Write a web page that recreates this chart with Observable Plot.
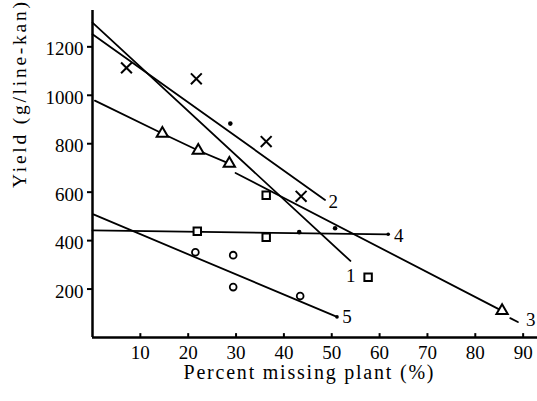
<!DOCTYPE html>
<html>
<head>
<meta charset="utf-8">
<script src="https://cdn.jsdelivr.net/npm/d3@7"></script>
<script src="https://cdn.jsdelivr.net/npm/@observablehq/plot@0.6"></script>
<style>
  html, body { margin: 0; padding: 0; background: white; }
  #chart { width: 537px; height: 401px; }
</style>
</head>
<body>
<div id="chart"></div>
<script>
// Axis ticks and titles
const xTicks = [10, 20, 30, 40, 50, 60, 70, 80, 90];
const yTicks = [200, 400, 600, 800, 1000, 1200];
const xTitle = "Percent missing plant (%)";
const yTitle = "Yield (g/line-kan)";

// Observed points by marker
const crossX = [7.1, 21.7, 36.3, 43.6];
const crossY = [1113, 1068, 809, 583];
const dotX = [28.8, 43.2, 50.7];
const dotY = [883, 435, 451];
const triX = [14.6, 22.1, 28.6, 85.6];
const triY = [842, 772, 718, 110];
const sqX = [36.3, 21.9, 36.3, 57.6];
const sqY = [587, 439, 414, 249];
const circX = [21.5, 29.4, 29.4, 43.4];
const circY = [352, 340, 208, 171];

// Fitted lines (end points)
const line1X = [0, 53.9];
const line1Y = [1300, 316];
const line2X = [0, 48.6];
const line2Y = [1252, 568];
const line3aX = [0.5, 14.6, 22.1, 28.6];
const line3aY = [978, 842, 772, 718];
const line3bX = [29.9, 85.6];
const line3bY = [679, 110];
const line3cX = [87.3, 88.9];
const line3cY = [80, 64];
const line4X = [0, 61.8];
const line4Y = [442, 426];
const line5X = [0.2, 51.1];
const line5Y = [508, 85];
const endDotX = [61.8, 51.1];
const endDotY = [426, 85];

// Line labels
const labelText = ["1", "2", "3", "4", "5"];
const labelX = [53.0, 49.3, 90.6, 63.0, 52.2];
const labelY = [255, 558, 72, 418, 87];

const pts = (xs, ys) => xs.map((x, i) => ({x, y: ys[i]}));
const lineOpts = {x: "x", y: "y", stroke: "black", strokeWidth: 1.8};

const svg = Plot.plot({
  width: 537,
  height: 401,
  marginLeft: 92,
  marginRight: 0,
  marginTop: 10,
  marginBottom: 64,
  x: {domain: [0, 93]},
  y: {domain: [0, 1350]},
  style: {fontFamily: "'Liberation Serif', serif", fontSize: "19px", color: "black", background: "white", overflow: "visible"},
  marks: [
    Plot.axisY(yTicks, {tickSize: 0, tickPadding: 9, fontSize: 19, label: null, dy: 2.5, tickFormat: d3.format("d")}),
    Plot.ruleY(yTicks, {x1: -1.05, x2: 0, strokeWidth: 2}),
    Plot.axisX(xTicks, {tickSize: 0, tickPadding: 8, fontSize: 19, label: null, tickFormat: d3.format("d")}),
    Plot.ruleX(xTicks, {y1: 0, y2: 16, strokeWidth: 2}),
    Plot.ruleX([0], {strokeWidth: 2.5}),
    Plot.ruleY([0], {strokeWidth: 2.5}),
    Plot.line(pts(line1X, line1Y), lineOpts),
    Plot.line(pts(line2X, line2Y), lineOpts),
    Plot.line(pts(line3aX, line3aY), lineOpts),
    Plot.line(pts(line3bX, line3bY), lineOpts),
    Plot.line(pts(line3cX, line3cY), lineOpts),
    Plot.line(pts(line4X, line4Y), lineOpts),
    Plot.line(pts(line5X, line5Y), lineOpts),
    Plot.dot(pts(endDotX, endDotY), {x: "x", y: "y", r: 1.8, fill: "black"}),
    Plot.dot(pts(crossX, crossY), {x: "x", y: "y", symbol: "times", r: 5, stroke: "black", strokeWidth: 2}),
    Plot.dot(pts(dotX, dotY), {x: "x", y: "y", r: 2.3, fill: "black"}),
    Plot.dot(pts(triX, triY), {x: "x", y: "y", symbol: "triangle", r: 4.2, stroke: "black", fill: "white", strokeWidth: 2}),
    Plot.dot(pts(sqX, sqY), {x: "x", y: "y", symbol: "square", r: 4.2, stroke: "black", fill: "white", strokeWidth: 2}),
    Plot.dot(pts(circX, circY), {x: "x", y: "y", symbol: "circle", r: 3.4, stroke: "black", fill: "white", strokeWidth: 1.8}),
    Plot.text(labelText, {x: (d, i) => labelX[i], y: (d, i) => labelY[i], text: d => d, textAnchor: "start", fontSize: 19}),
    Plot.text([xTitle], {frameAnchor: "bottom", dx: -6.5, dy: 41.6, fontSize: 20}),
    Plot.text([yTitle], {frameAnchor: "left", rotate: -90, dx: -73, dy: 14, fontSize: 19.5})
  ]
});

d3.select(svg).selectAll("text").each(function() {
  const t = this.textContent;
  if (t === xTitle) { this.setAttribute("textLength", 250); this.setAttribute("lengthAdjust", "spacing"); }
  if (t === yTitle) { this.setAttribute("textLength", 186); this.setAttribute("lengthAdjust", "spacing"); }
});

document.getElementById("chart").appendChild(svg);
</script>
</body>
</html>
